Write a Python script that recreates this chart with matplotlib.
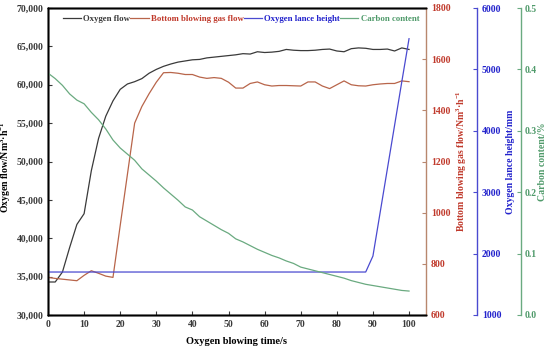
import matplotlib
matplotlib.use("Agg")
import matplotlib.pyplot as plt
from matplotlib.ticker import FuncFormatter

plt.rcParams['font.family'] = ['Liberation Serif', 'DejaVu Serif']
plt.rcParams['font.weight'] = 'bold'
plt.rcParams['mathtext.fontset'] = 'custom'
plt.rcParams['mathtext.rm'] = 'Liberation Serif:bold'
plt.rcParams['mathtext.it'] = 'Liberation Serif:bold'
plt.rcParams['mathtext.bf'] = 'Liberation Serif:bold'

time_s = list(range(0, 101, 2))

oxygen_flow = [34300, 34300, 35600, 38800, 41800, 43200, 48800, 53000, 55900, 57900,
               59400, 60100, 60400, 60800, 61500, 62000, 62400, 62700, 62950, 63100,
               63250, 63300, 63500, 63600, 63700, 63800, 63900, 64050, 64000, 64300,
               64200, 64250, 64350, 64600, 64500, 64450, 64450, 64500, 64600, 64650,
               64400, 64300, 64700, 64800, 64750, 64600, 64600, 64650, 64400, 64800,
               64600]

bottom_gas = [747, 743, 740, 737, 734, 755, 773, 763, 752, 747,
              950, 1150, 1350, 1415, 1465, 1510, 1547, 1548, 1545, 1540,
              1540, 1530, 1525, 1528, 1525, 1510, 1487, 1487, 1505, 1511,
              1500, 1495, 1497, 1497, 1496, 1495, 1511, 1511, 1495, 1485,
              1500, 1515, 1500, 1496, 1495, 1500, 1503, 1505, 1505, 1515,
              1512]

lance_height = [1700] * 45 + [1960, 2670, 3380, 4090, 4800, 5500]

carbon = [0.394, 0.385, 0.374, 0.360, 0.350, 0.344, 0.330, 0.318, 0.303, 0.285,
          0.272, 0.262, 0.252, 0.238, 0.228, 0.218, 0.207, 0.197, 0.187, 0.176,
          0.171, 0.160, 0.153, 0.146, 0.139, 0.133, 0.124, 0.119, 0.113, 0.107,
          0.102, 0.097, 0.093, 0.088, 0.084, 0.078, 0.075, 0.072, 0.069, 0.066,
          0.063, 0.060, 0.056, 0.053, 0.050, 0.048, 0.046, 0.044, 0.042, 0.040,
          0.039]

c_black = '#3a3a3a'
c_red = '#b8654a'
c_red_txt = '#c0392b'
c_red_sp = '#b8876e'
c_blue = '#4a4ad0'
c_blue_txt = '#2222cc'
c_green = '#6aaa80'
c_green_txt = '#4f9a6a'

fig = plt.figure(figsize=(5.5, 3.5), dpi=100)
ax = fig.add_axes([48/550, 35/350, 378/550, 307/350])
ax2 = ax.twinx()
ax3 = ax.twinx()
ax4 = ax.twinx()
ax3.spines['right'].set_position(('axes', (477-48)/378))
ax4.spines['right'].set_position(('axes', (521-48)/378))

fs = 7
lfs = 7
l1, = ax.plot(time_s, oxygen_flow, color=c_black, lw=0.9, label='Oxygen flow')
l2, = ax2.plot(time_s, bottom_gas, color=c_red, lw=0.9, label='Bottom blowing gas flow')
l3, = ax3.plot(time_s, lance_height, color=c_blue, lw=0.9, label='Oxygen lance height')
l4, = ax4.plot(time_s, carbon, color=c_green, lw=0.9, label='Carbon content')

ax.set_xlim(0, 104.7)
ax.set_ylim(30000, 70000)
ax2.set_ylim(600, 1800)
ax3.set_ylim(1000, 6000)
ax4.set_ylim(0, 0.5)

ax.set_xticks(range(0, 101, 10))
ax.set_yticks(range(30000, 70001, 5000))
ax.yaxis.set_major_formatter(FuncFormatter(lambda v, p: f'{int(v):,}'))
ax2.set_yticks(range(600, 1801, 200))
ax3.set_yticks(range(1000, 6001, 1000))
ax4.set_yticks([0.0, 0.1, 0.2, 0.3, 0.4, 0.5])
ax4.yaxis.set_major_formatter(FuncFormatter(lambda v, p: f'{v:.1f}'))

ax.tick_params(axis='both', direction='in', labelsize=fs, length=3, width=0.8, colors=c_black)
for a in (ax, ax2, ax3, ax4):
    for s in a.spines.values():
        s.set_linewidth(1.0)
for s in ('left', 'bottom', 'top'):
    ax.spines[s].set_color('#555555')
ax.spines['right'].set_visible(False)
ax2.spines['right'].set_color(c_red_sp)
ax3.spines['right'].set_color(c_blue)
ax4.spines['right'].set_color(c_green)
ax2.tick_params(axis='y', direction='in', labelsize=fs, length=3, colors=c_red_sp, labelcolor=c_red_txt)
ax3.tick_params(axis='y', direction='in', labelsize=fs, length=3, colors=c_blue, labelcolor=c_blue_txt)
ax4.tick_params(axis='y', direction='in', labelsize=fs, length=3, pad=2.5, colors=c_green, labelcolor=c_green_txt)

ax.set_xlabel('Oxygen blowing time/s', fontsize=7.5, fontweight='bold', labelpad=6)
ax.set_ylabel(r'Oxygen flow/Nm$^{3}$·h$^{-1}$', fontsize=lfs, fontweight='bold')
ax.yaxis.set_label_coords(-0.092, 0.48)
ax2.set_ylabel(r'Bottom blowing gas flow/Nm$^{3}$·h$^{-1}$', fontsize=lfs, fontweight='bold', color=c_red_txt, labelpad=3)
ax3.set_ylabel('Oxygen lance height/mm', fontsize=lfs, fontweight='bold', color=c_blue_txt, labelpad=3)
ax4.set_ylabel('Carbon content/%', fontsize=lfs, fontweight='bold', color=c_green_txt, labelpad=1.2)

leg = ax.legend(handles=[l1, l2, l3, l4], loc='upper left', bbox_to_anchor=(0.025, 0.995),
                ncol=4, frameon=False, fontsize=6.3, handlelength=2.1, handletextpad=0.25,
                columnspacing=0.0, borderaxespad=0.2)
for t, c in zip(leg.get_texts(), [c_black, c_red_txt, c_blue_txt, c_green_txt]):
    t.set_color(c)
    t.set_fontweight('bold')

fig.savefig('out.png', dpi=100)
